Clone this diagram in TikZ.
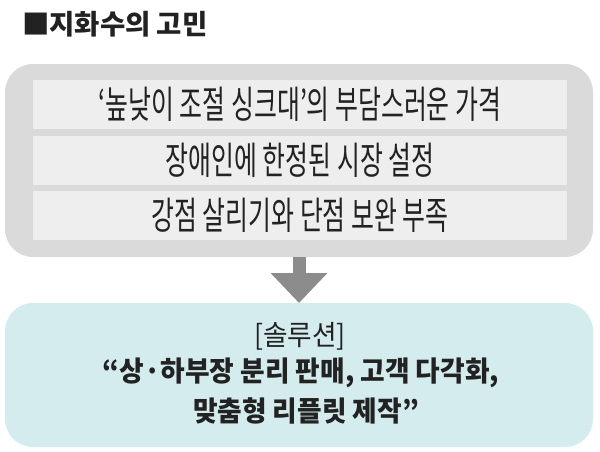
\documentclass[tikz,border=0pt]{standalone}
\usepackage{fontspec}
\newfontfamily\krfont{Noto Sans CJK KR}
\newfontfamily\krnarrow[FakeStretch=0.655]{Noto Sans CJK KR}
\newfontfamily\krsol[FakeStretch=0.955]{Noto Sans CJK KR}
\usepackage{tikz}
\usetikzlibrary{
positioning,
arrows.meta,
}
\definecolor{panelgray}{HTML}{DADADA}
\definecolor{rowgray}{HTML}{EEEEEE}
\definecolor{arrowgray}{HTML}{8C8C8C}
\definecolor{solcyan}{HTML}{D4ECEE}
\definecolor{inkdark}{HTML}{222222}
\tikzset{
node distance=6.5pt,
outer sep=0pt,
every node/.style={align=center, text=inkdark},
heading/.style={anchor=west, inner sep=0pt, font=\krfont\bfseries\fontsize{27.5}{30}\selectfont},
panel/.style={rectangle, rounded corners=28pt, fill=panelgray, minimum width=588pt, minimum height=193pt},
issue/.style={rectangle, fill=rowgray, inner sep=0pt, minimum width=534pt, minimum height=49pt,
  font=\krnarrow\fontsize{38}{40}\selectfont},
remedy/.style={rectangle, rounded corners=28pt, fill=solcyan, minimum width=588pt, minimum height=144pt},
soltext/.style={inner sep=0pt, font=\krsol\fontsize{28}{32}\selectfont},
solbold/.style={inner sep=0pt, font=\krsol\bfseries\fontsize{28}{32}\selectfont},
flow/.style={line width=13pt, draw=arrowgray, -{Triangle[width=55pt, length=30pt]}},
}

\begin{document}
\begin{tikzpicture}[x=1pt, y=-1pt]
\useasboundingbox (0,0) rectangle (600,451);
\node (title) [heading] at (22,24) {■지화수의 고민};
% problems
\node (worry) [panel] at (299,160.5) {};
\node (cost) [issue] at (300,104.5) {‘높낮이 조절 싱크대’의 부담스러운 가격};
\node (market) [issue, below=of cost] {장애인에 한정된 시장 설정};
\node (balance) [issue, below=of market] {강점 살리기와 단점 보완 부족};
% solution
\node (solution) [remedy] at (299,375) {};
\node (tag) [soltext] at (300,336) {[솔루션]};
\node (pitch) [solbold] at (301,373) {“상·하부장 분리 판매, 고객 다각화,};
\node (pitchend) [solbold] at (306,411) {맞춤형 리플릿 제작”};
\draw [flow] (worry.south) -- (solution.north);
\end{tikzpicture}
\end{document}
